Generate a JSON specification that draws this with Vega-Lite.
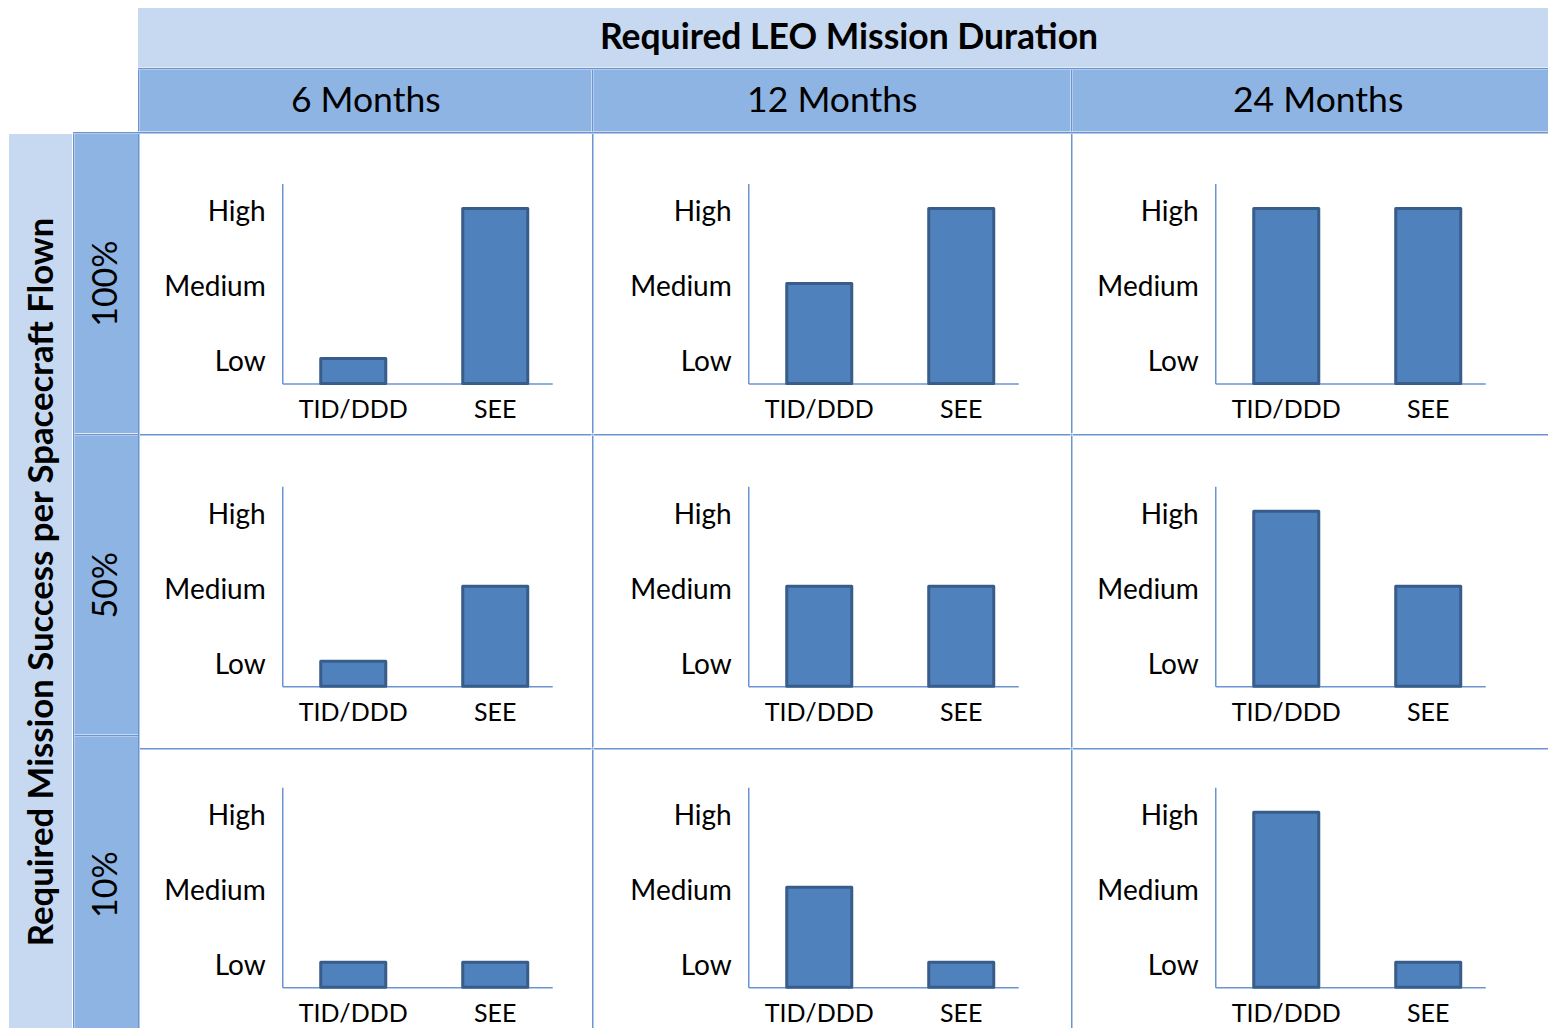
{
  "$schema": "https://vega.github.io/schema/vega-lite/v6.json",
  "background": "white",
  "padding": {"left": 0, "top": 8, "right": 0, "bottom": 0},
  "datasets": {
    "ratings": [
      {"success": "100%", "duration": "6 Months", "effect": "TID/DDD", "level": 1},
      {"success": "100%", "duration": "6 Months", "effect": "SEE", "level": 3},
      {"success": "100%", "duration": "12 Months", "effect": "TID/DDD", "level": 2},
      {"success": "100%", "duration": "12 Months", "effect": "SEE", "level": 3},
      {"success": "100%", "duration": "24 Months", "effect": "TID/DDD", "level": 3},
      {"success": "100%", "duration": "24 Months", "effect": "SEE", "level": 3},
      {"success": "50%", "duration": "6 Months", "effect": "TID/DDD", "level": 1},
      {"success": "50%", "duration": "6 Months", "effect": "SEE", "level": 2},
      {"success": "50%", "duration": "12 Months", "effect": "TID/DDD", "level": 2},
      {"success": "50%", "duration": "12 Months", "effect": "SEE", "level": 2},
      {"success": "50%", "duration": "24 Months", "effect": "TID/DDD", "level": 3},
      {"success": "50%", "duration": "24 Months", "effect": "SEE", "level": 2},
      {"success": "10%", "duration": "6 Months", "effect": "TID/DDD", "level": 1},
      {"success": "10%", "duration": "6 Months", "effect": "SEE", "level": 1},
      {"success": "10%", "duration": "12 Months", "effect": "TID/DDD", "level": 2},
      {"success": "10%", "duration": "12 Months", "effect": "SEE", "level": 1},
      {"success": "10%", "duration": "24 Months", "effect": "TID/DDD", "level": 3},
      {"success": "10%", "duration": "24 Months", "effect": "SEE", "level": 1}
    ]
  },
  "spacing": 0,
  "vconcat": [
    {
      "spacing": 0, "bounds": "flush", "align": "each",
      "hconcat": [
        {"width": 138, "height": 59.5, "data": {"values": []}, "mark": "rect"},
        {"width": 1410, "height": 59.5, "view": {"fill": "#C6D9F1"},
         "data": {"values": [{"label": "Required LEO Mission Duration"}]},
         "mark": {"type": "text", "fontSize": 35.5, "fontWeight": "bold", "dx": 6},
         "encoding": {"text": {"field": "label"}}}
      ]
    },
    {
      "spacing": 0, "bounds": "flush", "align": "each",
      "hconcat": [
        {"width": 137.25, "height": 1.5, "data": {"values": []}, "mark": "rect"},
        {"width": 1410.75, "height": 1.5, "view": {"fill": "#6A95D1"}, "data": {"values": []}, "mark": "rect"}
      ]
    },
    {
      "spacing": 0, "bounds": "flush", "align": "each",
      "hconcat": [
        {"width": 137.25, "height": 61.5, "data": {"values": []}, "mark": "rect"},
        {"width": 1.5, "height": 61.5, "view": {"fill": "#6A95D1"}, "data": {"values": []}, "mark": "rect"},
        {"width": 451.5, "height": 61.5, "view": {"fill": "#8DB4E2"},
         "data": {"values": [{"label": "6 Months"}]}, "mark": {"type": "text", "fontSize": 35.5}, "encoding": {"text": {"field": "label"}}},
        {"width": 1.5, "height": 61.5, "view": {"fill": "#6A95D1"}, "data": {"values": []}, "mark": "rect"},
        {"width": 476.5, "height": 61.5, "view": {"fill": "#8DB4E2"},
         "data": {"values": [{"label": "12 Months"}]}, "mark": {"type": "text", "fontSize": 35.5}, "encoding": {"text": {"field": "label"}}},
        {"width": 1.5, "height": 61.5, "view": {"fill": "#6A95D1"}, "data": {"values": []}, "mark": "rect"},
        {"width": 478.25, "height": 61.5, "view": {"fill": "#8DB4E2"},
         "data": {"values": [{"label": "24 Months"}]}, "mark": {"type": "text", "fontSize": 35.5, "dx": 6}, "encoding": {"text": {"field": "label"}}}
      ]
    },
    {
      "spacing": 0, "bounds": "flush", "align": "each",
      "hconcat": [
        {"width": 72.75, "height": 1.5, "data": {"values": []}, "mark": "rect"},
        {"width": 1475.25, "height": 1.5, "view": {"fill": "#6A95D1"}, "data": {"values": []}, "mark": "rect"}
      ]
    },
    {
      "spacing": 0, "align": "each",
      "hconcat": [
        {"width": 9, "height": 896, "data": {"values": []}, "mark": "rect"},
        {"width": 63, "height": 896, "view": {"fill": "#C6D9F1"},
         "data": {"values": [{"label": "Required Mission Success per Spacecraft Flown"}]},
         "mark": {"type": "text", "fontSize": 34.7, "fontWeight": "bold", "angle": 270, "dy": 2},
         "encoding": {"text": {"field": "label"}}},
        {"width": 0.75, "height": 896, "data": {"values": []}, "mark": "rect"},
        {"width": 1.5, "height": 896, "view": {"fill": "#6A95D1"}, "data": {"values": []}, "mark": "rect"},
        {
          "spacing": 0, "bounds": "flush", "align": "each",
          "vconcat": [
            {"width": 63, "height": 299.25, "view": {"fill": "#8DB4E2"},
             "data": {"values": [{"label": "100%"}]}, "mark": {"type": "text", "fontSize": 34, "angle": 270}, "encoding": {"text": {"field": "label"}}},
            {"width": 63, "height": 1.5, "view": {"fill": "#6A95D1"}, "data": {"values": []}, "mark": "rect"},
            {"width": 63, "height": 298.5, "view": {"fill": "#8DB4E2"},
             "data": {"values": [{"label": "50%"}]}, "mark": {"type": "text", "fontSize": 34, "angle": 270}, "encoding": {"text": {"field": "label"}}},
            {"width": 63, "height": 1.5, "view": {"fill": "#6A95D1"}, "data": {"values": []}, "mark": "rect"},
            {"width": 63, "height": 295.25, "view": {"fill": "#8DB4E2"},
             "data": {"values": [{"label": "10%"}]}, "mark": {"type": "text", "fontSize": 34, "angle": 270}, "encoding": {"text": {"field": "label"}}}
          ]
        },
        {"width": 1.5, "height": 896, "view": {"fill": "#6A95D1"}, "data": {"values": []}, "mark": "rect"},
        {
          "spacing": 0, "bounds": "flush", "align": "each", "columns": 5,
          "concat": [
            {"width": 451.5, "height": 299.25, "data": {"name": "ratings"},
             "transform": [{"filter": "datum.success == '100%' && datum.duration == '6 Months'"}],
             "mark": {"type": "bar", "fill": "#4F81BD", "stroke": "#385D8A", "strokeWidth": 3, "strokeJoin": "round"},
             "encoding": {
               "x": {"field": "effect", "type": "nominal", "sort": ["TID/DDD", "SEE"], "title": null,
                     "scale": {"range": [142.25, 412.25], "paddingInner": 0.542, "paddingOuter": 0.2218, "align": 0.611},
                     "axis": {"offset": -49.75}},
               "y": {"field": "level", "type": "quantitative", "title": null,
                     "scale": {"domain": [0.6667, 3.3333], "range": [249.5, 49.5], "nice": false, "zero": false},
                     "axis": {"offset": -142.25, "values": [1, 2, 3], "labelExpr": "datum.value == 1 ? 'Low' : datum.value == 2 ? 'Medium' : 'High'"}},
               "y2": {"datum": 0.6667}
             }},
            {"width": 1.5, "height": 299.25, "view": {"fill": "#6A95D1"}, "data": {"values": []}, "mark": "rect"},
            {"width": 476.5, "height": 299.25, "data": {"name": "ratings"},
             "transform": [{"filter": "datum.success == '100%' && datum.duration == '12 Months'"}],
             "mark": {"type": "bar", "fill": "#4F81BD", "stroke": "#385D8A", "strokeWidth": 3, "strokeJoin": "round"},
             "encoding": {
               "x": {"field": "effect", "type": "nominal", "sort": ["TID/DDD", "SEE"], "title": null,
                     "scale": {"range": [154.25, 424.25], "paddingInner": 0.542, "paddingOuter": 0.2218, "align": 0.611},
                     "axis": {"offset": -49.75}},
               "y": {"field": "level", "type": "quantitative", "title": null,
                     "scale": {"domain": [0.6667, 3.3333], "range": [249.5, 49.5], "nice": false, "zero": false},
                     "axis": {"offset": -154.25, "values": [1, 2, 3], "labelExpr": "datum.value == 1 ? 'Low' : datum.value == 2 ? 'Medium' : 'High'"}},
               "y2": {"datum": 0.6667}
             }},
            {"width": 1.5, "height": 299.25, "view": {"fill": "#6A95D1"}, "data": {"values": []}, "mark": "rect"},
            {"width": 478.25, "height": 299.25, "data": {"name": "ratings"},
             "transform": [{"filter": "datum.success == '100%' && datum.duration == '24 Months'"}],
             "mark": {"type": "bar", "fill": "#4F81BD", "stroke": "#385D8A", "strokeWidth": 3, "strokeJoin": "round"},
             "encoding": {
               "x": {"field": "effect", "type": "nominal", "sort": ["TID/DDD", "SEE"], "title": null,
                     "scale": {"range": [142.25, 412.25], "paddingInner": 0.542, "paddingOuter": 0.2218, "align": 0.611},
                     "axis": {"offset": -49.75}},
               "y": {"field": "level", "type": "quantitative", "title": null,
                     "scale": {"domain": [0.6667, 3.3333], "range": [249.5, 49.5], "nice": false, "zero": false},
                     "axis": {"offset": -142.25, "values": [1, 2, 3], "labelExpr": "datum.value == 1 ? 'Low' : datum.value == 2 ? 'Medium' : 'High'"}},
               "y2": {"datum": 0.6667}
             }},

            {"width": 451.5, "height": 1.5, "view": {"fill": "#6A95D1"}, "data": {"values": []}, "mark": "rect"},
            {"width": 1.5, "height": 1.5, "view": {"fill": "#6A95D1"}, "data": {"values": []}, "mark": "rect"},
            {"width": 476.5, "height": 1.5, "view": {"fill": "#6A95D1"}, "data": {"values": []}, "mark": "rect"},
            {"width": 1.5, "height": 1.5, "view": {"fill": "#6A95D1"}, "data": {"values": []}, "mark": "rect"},
            {"width": 478.25, "height": 1.5, "view": {"fill": "#6A95D1"}, "data": {"values": []}, "mark": "rect"},

            {"width": 451.5, "height": 311.5, "data": {"name": "ratings"},
             "transform": [{"filter": "datum.success == '50%' && datum.duration == '6 Months'"}],
             "mark": {"type": "bar", "fill": "#4F81BD", "stroke": "#385D8A", "strokeWidth": 3, "strokeJoin": "round"},
             "encoding": {
               "x": {"field": "effect", "type": "nominal", "sort": ["TID/DDD", "SEE"], "title": null,
                     "scale": {"range": [142.25, 412.25], "paddingInner": 0.542, "paddingOuter": 0.2218, "align": 0.611},
                     "axis": {"offset": -61.25}},
               "y": {"field": "level", "type": "quantitative", "title": null,
                     "scale": {"domain": [0.6667, 3.3333], "range": [250.25, 50.25], "nice": false, "zero": false},
                     "axis": {"offset": -142.25, "values": [1, 2, 3], "labelExpr": "datum.value == 1 ? 'Low' : datum.value == 2 ? 'Medium' : 'High'"}},
               "y2": {"datum": 0.6667}
             }},
            {"width": 1.5, "height": 311.5, "view": {"fill": "#6A95D1"}, "data": {"values": []}, "mark": "rect"},
            {"width": 476.5, "height": 311.5, "data": {"name": "ratings"},
             "transform": [{"filter": "datum.success == '50%' && datum.duration == '12 Months'"}],
             "mark": {"type": "bar", "fill": "#4F81BD", "stroke": "#385D8A", "strokeWidth": 3, "strokeJoin": "round"},
             "encoding": {
               "x": {"field": "effect", "type": "nominal", "sort": ["TID/DDD", "SEE"], "title": null,
                     "scale": {"range": [154.25, 424.25], "paddingInner": 0.542, "paddingOuter": 0.2218, "align": 0.611},
                     "axis": {"offset": -61.25}},
               "y": {"field": "level", "type": "quantitative", "title": null,
                     "scale": {"domain": [0.6667, 3.3333], "range": [250.25, 50.25], "nice": false, "zero": false},
                     "axis": {"offset": -154.25, "values": [1, 2, 3], "labelExpr": "datum.value == 1 ? 'Low' : datum.value == 2 ? 'Medium' : 'High'"}},
               "y2": {"datum": 0.6667}
             }},
            {"width": 1.5, "height": 311.5, "view": {"fill": "#6A95D1"}, "data": {"values": []}, "mark": "rect"},
            {"width": 478.25, "height": 311.5, "data": {"name": "ratings"},
             "transform": [{"filter": "datum.success == '50%' && datum.duration == '24 Months'"}],
             "mark": {"type": "bar", "fill": "#4F81BD", "stroke": "#385D8A", "strokeWidth": 3, "strokeJoin": "round"},
             "encoding": {
               "x": {"field": "effect", "type": "nominal", "sort": ["TID/DDD", "SEE"], "title": null,
                     "scale": {"range": [142.25, 412.25], "paddingInner": 0.542, "paddingOuter": 0.2218, "align": 0.611},
                     "axis": {"offset": -61.25}},
               "y": {"field": "level", "type": "quantitative", "title": null,
                     "scale": {"domain": [0.6667, 3.3333], "range": [250.25, 50.25], "nice": false, "zero": false},
                     "axis": {"offset": -142.25, "values": [1, 2, 3], "labelExpr": "datum.value == 1 ? 'Low' : datum.value == 2 ? 'Medium' : 'High'"}},
               "y2": {"datum": 0.6667}
             }},

            {"width": 451.5, "height": 1.5, "view": {"fill": "#6A95D1"}, "data": {"values": []}, "mark": "rect"},
            {"width": 1.5, "height": 1.5, "view": {"fill": "#6A95D1"}, "data": {"values": []}, "mark": "rect"},
            {"width": 476.5, "height": 1.5, "view": {"fill": "#6A95D1"}, "data": {"values": []}, "mark": "rect"},
            {"width": 1.5, "height": 1.5, "view": {"fill": "#6A95D1"}, "data": {"values": []}, "mark": "rect"},
            {"width": 478.25, "height": 1.5, "view": {"fill": "#6A95D1"}, "data": {"values": []}, "mark": "rect"},

            {"width": 451.5, "height": 282.25, "data": {"name": "ratings"},
             "transform": [{"filter": "datum.success == '10%' && datum.duration == '6 Months'"}],
             "mark": {"type": "bar", "fill": "#4F81BD", "stroke": "#385D8A", "strokeWidth": 3, "strokeJoin": "round"},
             "encoding": {
               "x": {"field": "effect", "type": "nominal", "sort": ["TID/DDD", "SEE"], "title": null,
                     "scale": {"range": [142.25, 412.25], "paddingInner": 0.542, "paddingOuter": 0.2218, "align": 0.611},
                     "axis": {"offset": -45}},
               "y": {"field": "level", "type": "quantitative", "title": null,
                     "scale": {"domain": [0.6667, 3.3333], "range": [237.25, 37.25], "nice": false, "zero": false},
                     "axis": {"offset": -142.25, "values": [1, 2, 3], "labelExpr": "datum.value == 1 ? 'Low' : datum.value == 2 ? 'Medium' : 'High'"}},
               "y2": {"datum": 0.6667}
             }},
            {"width": 1.5, "height": 282.25, "view": {"fill": "#6A95D1"}, "data": {"values": []}, "mark": "rect"},
            {"width": 476.5, "height": 282.25, "data": {"name": "ratings"},
             "transform": [{"filter": "datum.success == '10%' && datum.duration == '12 Months'"}],
             "mark": {"type": "bar", "fill": "#4F81BD", "stroke": "#385D8A", "strokeWidth": 3, "strokeJoin": "round"},
             "encoding": {
               "x": {"field": "effect", "type": "nominal", "sort": ["TID/DDD", "SEE"], "title": null,
                     "scale": {"range": [154.25, 424.25], "paddingInner": 0.542, "paddingOuter": 0.2218, "align": 0.611},
                     "axis": {"offset": -45}},
               "y": {"field": "level", "type": "quantitative", "title": null,
                     "scale": {"domain": [0.6667, 3.3333], "range": [237.25, 37.25], "nice": false, "zero": false},
                     "axis": {"offset": -154.25, "values": [1, 2, 3], "labelExpr": "datum.value == 1 ? 'Low' : datum.value == 2 ? 'Medium' : 'High'"}},
               "y2": {"datum": 0.6667}
             }},
            {"width": 1.5, "height": 282.25, "view": {"fill": "#6A95D1"}, "data": {"values": []}, "mark": "rect"},
            {"width": 478.25, "height": 282.25, "data": {"name": "ratings"},
             "transform": [{"filter": "datum.success == '10%' && datum.duration == '24 Months'"}],
             "mark": {"type": "bar", "fill": "#4F81BD", "stroke": "#385D8A", "strokeWidth": 3, "strokeJoin": "round"},
             "encoding": {
               "x": {"field": "effect", "type": "nominal", "sort": ["TID/DDD", "SEE"], "title": null,
                     "scale": {"range": [142.25, 412.25], "paddingInner": 0.542, "paddingOuter": 0.2218, "align": 0.611},
                     "axis": {"offset": -45}},
               "y": {"field": "level", "type": "quantitative", "title": null,
                     "scale": {"domain": [0.6667, 3.3333], "range": [237.25, 37.25], "nice": false, "zero": false},
                     "axis": {"offset": -142.25, "values": [1, 2, 3], "labelExpr": "datum.value == 1 ? 'Low' : datum.value == 2 ? 'Medium' : 'High'"}},
               "y2": {"datum": 0.6667}
             }}
          ]
        }
      ]
    }
  ],
  "config": {
    "view": {"stroke": null},
    "concat": {"spacing": 0},
    "axis": {"grid": false, "ticks": false, "domainColor": "#6A95D1", "domainWidth": 1.5, "labelFont": "Lato", "labelColor": "#000000", "labelFlush": false, "labelOverlap": false},
    "axisX": {"labelPadding": 14, "labelAngle": 0, "labelFontSize": 25},
    "axisY": {"labelPadding": 17, "labelFontSize": 28, "labelOffset": 4},
    "text": {"font": "Lato", "color": "#000000"}
  }
}
